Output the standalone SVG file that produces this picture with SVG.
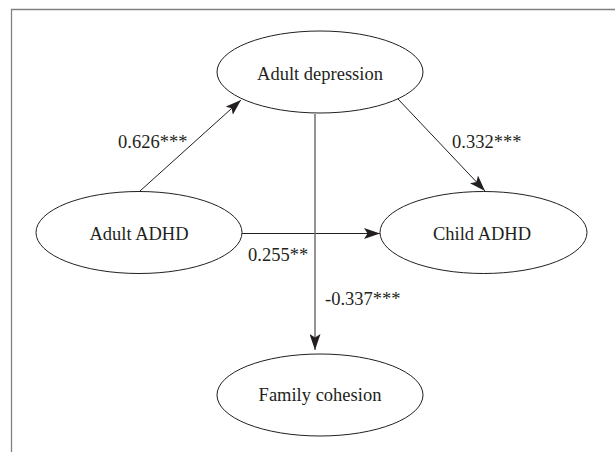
<svg xmlns="http://www.w3.org/2000/svg" width="615" height="452" viewBox="0 0 615 452">
<style>
.node ellipse{fill:#fff;stroke:#231f20;stroke-width:1}
text{font-family:"Liberation Serif","Times New Roman",serif;font-size:18.5px;fill:#231f20}
.lbl{text-anchor:middle}
.edge{fill:none;stroke:#231f20;stroke-width:1}
.edge.gray{stroke:#707070;stroke-width:1.5}
.frame{stroke:#808080;stroke-width:1.3;fill:none}
</style>
<defs>
<marker id="ah" markerUnits="userSpaceOnUse" viewBox="0 0 16 11" markerWidth="16" markerHeight="11" refX="16" refY="5.5" orient="auto">
<path d="M0,0 L16,5.5 L0,11 L3.5,5.5 z" fill="#231f20"/>
</marker>
</defs>
<rect width="615" height="452" fill="#fff"/>
<path class="frame" d="M11.5,452 L11.5,9.5 L615,9.5"/>
<g id="connectors">
<line class="edge" x1="140" y1="191" x2="241" y2="100" marker-end="url(#ah)"/>
<line class="edge" x1="398" y1="99" x2="485" y2="191" marker-end="url(#ah)"/>
<line class="edge" x1="242" y1="233.5" x2="380" y2="233.5" marker-end="url(#ah)"/>
<line class="edge gray" x1="315" y1="114" x2="315" y2="350" marker-end="url(#ah)"/>
<text x="118" y="148">0.626***</text>
<text x="452" y="148">0.332***</text>
<text x="248" y="261">0.255**</text>
<text x="325" y="305">-0.337***</text>
</g>
<g id="adult-depression" class="node">
<ellipse cx="320" cy="72" rx="103" ry="41"/>
<text class="lbl" x="320" y="80">Adult depression</text>
</g>
<g id="adult-adhd" class="node">
<ellipse cx="139" cy="232.5" rx="103" ry="41"/>
<text class="lbl" x="139" y="240">Adult ADHD</text>
</g>
<g id="child-adhd" class="node">
<ellipse cx="483.5" cy="232.5" rx="103.5" ry="41"/>
<text class="lbl" x="482" y="240">Child ADHD</text>
</g>
<g id="family-cohesion" class="node">
<ellipse cx="320" cy="395" rx="103" ry="41"/>
<text class="lbl" x="320" y="401">Family cohesion</text>
</g>
</svg>
